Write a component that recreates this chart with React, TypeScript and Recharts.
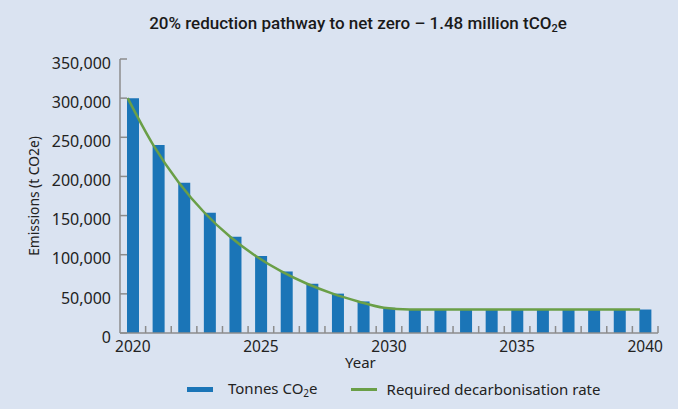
import { ComposedChart, Bar, Line, XAxis, YAxis, Label } from 'recharts';

const years = [2020, 2021, 2022, 2023, 2024, 2025, 2026, 2027, 2028, 2029, 2030, 2031, 2032, 2033, 2034, 2035, 2036, 2037, 2038, 2039, 2040];
const tonnes = [300000, 240000, 192000, 153600, 122900, 98300, 78600, 62900, 50300, 40300, 32200, 30000, 30000, 30000, 30000, 30000, 30000, 30000, 30000, 30000, 30000];
const pathway = [300000, 240000, 192000, 153600, 122900, 98300, 78600, 62900, 50300, 40300, 32200, 30000, 30000, 30000, 30000, 30000, 30000, 30000, 30000, 30000, 30000];
const yTicks = [0, 50000, 100000, 150000, 200000, 250000, 300000, 350000];
const labelYears = [2020, 2025, 2030, 2035, 2040];

const data = years.map((year, i) => ({ year, tonnes: tonnes[i], pathway: pathway[i] }));

const BG = '#dae3f1';
const BAR = '#1b75b7';
const GREEN = '#6a9f47';
const AXIS = '#8c8c8c';
const TEXT = '#222';
const FONT = '"Noto Sans", "Open Sans", sans-serif';

function YearTick(props: any) {
  const { x, y, payload, width, visibleTicksCount } = props;
  const half = width / visibleTicksCount / 2;
  return (
    <g>
      <line x1={x + half} x2={x + half} y1={y} y2={y - 7} stroke={AXIS} strokeWidth={1.5} />
      {labelYears.includes(payload.value) && (
        <text x={x} y={y + 14} dy="0.35em" textAnchor="middle" fontSize={15.5} fill={TEXT} fontFamily={FONT}>
          {payload.value}
        </text>
      )}
    </g>
  );
}

export default function App() {
  return (
    <div style={{ position: 'relative', width: 678, height: 409, background: BG, fontFamily: FONT }}>
      <style>{`body{margin:0}`}</style>
      <div
        style={{
          position: 'absolute',
          left: 0,
          width: 716,
          top: 13,
          textAlign: 'center',
          fontFamily: 'Roboto, sans-serif',
          fontWeight: 500,
          fontSize: 17,
          color: '#1a1a1a',
        }}
      >
        20% reduction pathway to net zero – 1.48 million tCO<sub style={{ fontSize: 11, verticalAlign: -3 }}>2</sub>e
      </div>
      <ComposedChart width={678} height={409} data={data} margin={{ top: 59, right: 20, bottom: 46, left: 0 }}>
        <XAxis
          dataKey="year"
          type="category"
          interval={0}
          stroke={AXIS}
          strokeWidth={1.5}
          tickLine={false}
          tickSize={0}
          tickMargin={0}
          height={30}
          tick={<YearTick />}
        >
          <Label
            content={({ viewBox }: any) => (
              <text x={viewBox.x + 225} y={viewBox.y + 30} dy="0.35em" fontSize={15} fill={TEXT} fontFamily={FONT}>
                Year
              </text>
            )}
          />
        </XAxis>
        <XAxis xAxisId="line" dataKey="year" type="number" domain={[2019.7, 2040.7]} hide />
        <YAxis
          width={120}
          domain={[0, 350000]}
          ticks={yTicks}
          interval={0}
          stroke={AXIS}
          strokeWidth={1.5}
          tickSize={-7}
          tickMargin={16}
          tick={{ fill: TEXT, fontSize: 16, fontFamily: FONT, dy: 4 }}
          tickFormatter={(v: number) => v.toLocaleString('en-US')}
        >
          <Label
            content={({ viewBox }: any) => {
              const cx = viewBox.x + 34;
              const cy = viewBox.y + viewBox.height / 2;
              return (
                <text x={cx} y={cy} transform={`rotate(-90, ${cx}, ${cy})`} textAnchor="middle" dy="0.35em" fontSize={13.8} fill={TEXT} fontFamily={FONT}>
                  Emissions (t CO2e)
                </text>
              );
            }}
          />
        </YAxis>
        <Bar dataKey="tonnes" name="Tonnes CO2e" fill={BAR} barSize={12} isAnimationActive={false} />
        <Line
          xAxisId="line"
          dataKey="pathway"
          name="Required decarbonisation rate"
          type="monotone"
          stroke={GREEN}
          strokeWidth={2.5}
          dot={false}
          isAnimationActive={false}
        />
      </ComposedChart>
      <div style={{ position: 'absolute', top: 378, left: 187, display: 'flex', alignItems: 'center', fontSize: 15, color: TEXT }}>
        <span style={{ display: 'inline-block', width: 26, height: 5, background: BAR, marginRight: 15 }} />
        <span>
          Tonnes CO<sub style={{ fontSize: 10, verticalAlign: -3 }}>2</sub>e
        </span>
        <span style={{ display: 'inline-block', width: 26, height: 3, background: GREEN, marginLeft: 33, marginRight: 10 }} />
        <span>Required decarbonisation rate</span>
      </div>
    </div>
  );
}
